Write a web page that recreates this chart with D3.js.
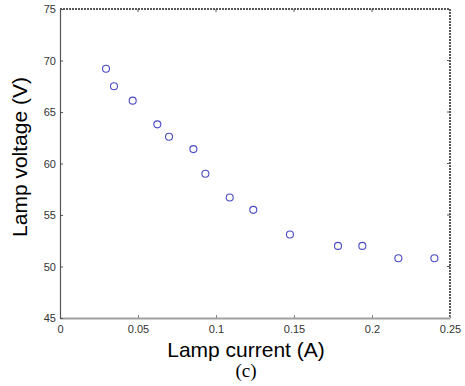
<!DOCTYPE html>
<html>
<head>
<meta charset="utf-8">
<script src="https://cdn.jsdelivr.net/npm/d3@7"></script>
<style>
body { margin: 0; background: #fff; }
svg { display: block; }
.tick text { font-family: "Liberation Sans", Arial, sans-serif; font-size: 11px; fill: #333; }
</style>
</head>
<body>
<script>
var w = 465, h = 386;
var current = [0.0295, 0.0346, 0.0466, 0.0624, 0.0699, 0.0855, 0.0932, 0.1088, 0.1239, 0.1474, 0.1782, 0.1938, 0.2169, 0.2400];
var voltage = [69.2, 67.5, 66.1, 63.8, 62.6, 61.4, 59.0, 56.7, 55.5, 53.1, 52.0, 52.0, 50.8, 50.8];
var xTicks = [0, 0.05, 0.1, 0.15, 0.2, 0.25];
var yTicks = [45, 50, 55, 60, 65, 70, 75];

var pLeft = 60, pRight = 450, pTop = 9, pBottom = 318;

var svg = d3.select("body").append("svg").attr("width", w).attr("height", h);

var x = d3.scaleLinear().domain([0, 0.25]).range([pLeft, pRight]);
var y = d3.scaleLinear().domain([45, 75]).range([pBottom, pTop]);

// top and right borders (dotted)
svg.append("line").attr("x1", pLeft).attr("x2", pRight).attr("y1", pTop).attr("y2", pTop)
	.attr("stroke", "#222").attr("stroke-width", 1.5).attr("stroke-dasharray", "2,1");
svg.append("line").attr("x1", pRight).attr("x2", pRight).attr("y1", pTop).attr("y2", pBottom)
	.attr("stroke", "#222").attr("stroke-width", 1.5).attr("stroke-dasharray", "2,1");

// ticks on top and right
svg.selectAll(".tt").data(xTicks.slice(1, -1)).enter().append("line")
	.attr("x1", function(d){return x(d)}).attr("x2", function(d){return x(d)})
	.attr("y1", pTop).attr("y2", pTop + 3).attr("stroke", "#555");
svg.selectAll(".rt").data(yTicks.slice(1, -1)).enter().append("line")
	.attr("x1", pRight).attr("x2", pRight - 3)
	.attr("y1", function(d){return y(d)}).attr("y2", function(d){return y(d)}).attr("stroke", "#555");

var xAxis = svg.append("g").attr("transform", "translate(0," + pBottom + ")")
	.call(d3.axisBottom(x).tickValues(xTicks).tickSizeInner(-3).tickSizeOuter(0).tickPadding(7)
		.tickFormat(function(d){return String(+d.toFixed(2))}));
xAxis.select(".domain").attr("stroke", "#a0a0a0").attr("stroke-width", 2);
xAxis.selectAll(".tick line").attr("stroke", "#888");

var yAxis = svg.append("g").attr("transform", "translate(" + pLeft + ",0)")
	.call(d3.axisLeft(y).tickValues(yTicks).tickSizeInner(-3).tickSizeOuter(0).tickPadding(4));
yAxis.select(".domain").attr("stroke", "#555").attr("stroke-width", 1.2);
yAxis.selectAll(".tick line").attr("stroke", "#555");

// markers
svg.selectAll("circle").data(current).enter().append("circle")
	.attr("cx", function(d){return x(d)})
	.attr("cy", function(d, i){return y(voltage[i])})
	.attr("r", 3.5)
	.attr("fill", "none")
	.attr("stroke", "#4a4ac4")
	.attr("stroke-width", 1.1);

svg.append("text").text("Lamp current (A)")
	.attr("x", 246).attr("y", 357).attr("text-anchor", "middle")
	.attr("font-family", "Liberation Sans, Arial, sans-serif").attr("font-size", 21).attr("fill", "#000");
svg.append("text").text("Lamp voltage (V)")
	.attr("transform", "translate(27,157) rotate(-90)").attr("text-anchor", "middle")
	.attr("font-family", "Liberation Sans, Arial, sans-serif").attr("font-size", 21).attr("fill", "#000");
svg.append("text").text("(c)")
	.attr("x", 246).attr("y", 377).attr("text-anchor", "middle")
	.attr("font-family", "Liberation Serif, Times New Roman, serif").attr("font-size", 19).attr("fill", "#000");
</script>
</body>
</html>
